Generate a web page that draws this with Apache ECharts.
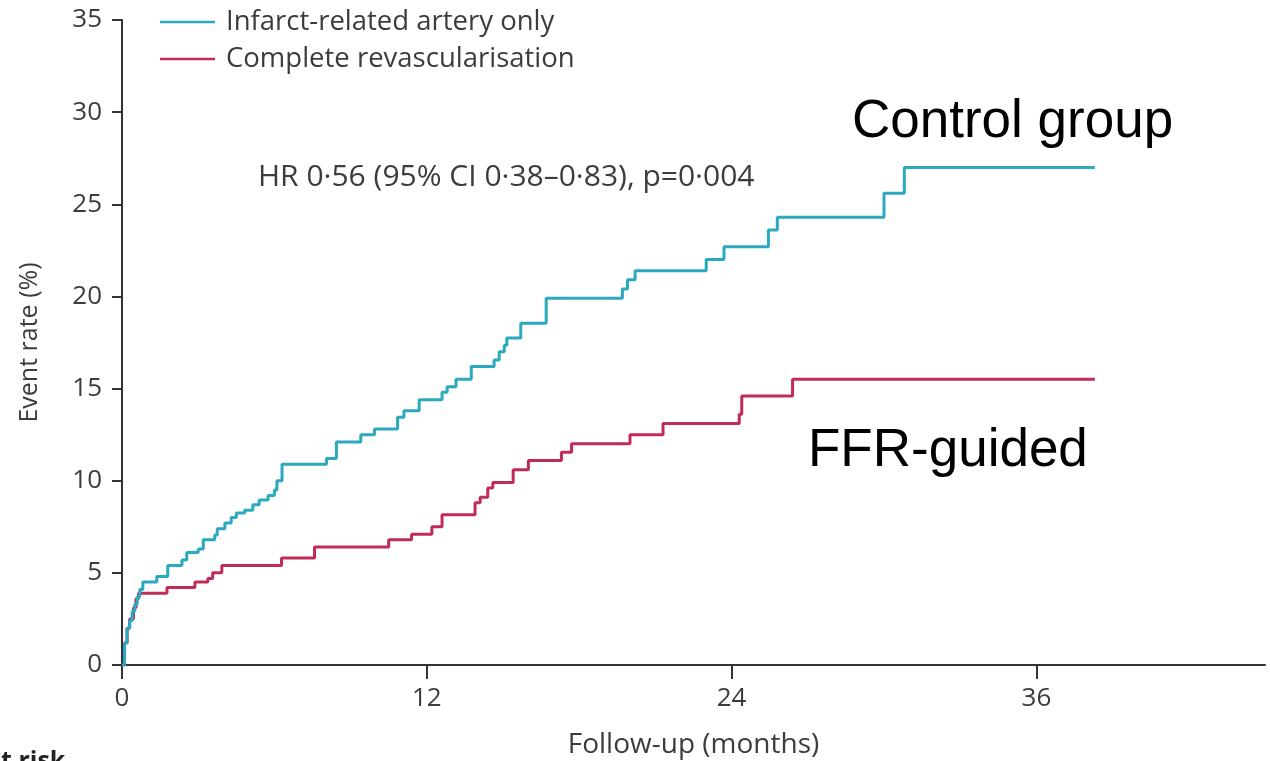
<!DOCTYPE html>
<html>
<head>
<meta charset="utf-8">
<script src="https://cdn.jsdelivr.net/npm/echarts@6/dist/echarts.min.js"></script>
<style>
  html, body { margin: 0; padding: 0; background: #fff; }
  #chart { width: 1270px; height: 761px; }
</style>
</head>
<body>
<div id="chart"></div>
<script>
// Cumulative event rate (%) by follow-up month — Kaplan–Meier style step curves
const ctrlMonths = [0, 0.1, 0.2, 0.3, 0.4, 0.5, 0.6, 0.7, 0.82, 1.37, 1.8, 2.36, 2.55, 3.0, 3.2, 3.65, 3.75,
  4.05, 4.3, 4.5, 4.83, 5.15, 5.4, 5.75, 6.0, 6.1, 6.3, 8.05, 8.44, 9.4, 9.94, 10.85, 11.1, 11.7,
  12.6, 12.8, 13.15, 13.75, 14.65, 14.85, 15.05, 15.15, 15.7, 16.7, 19.7, 19.9, 20.2, 23.0, 23.7,
  25.45, 25.8, 30.0, 30.8, 38.3];
const ctrlRate = [0, 1.2, 2.0, 2.4, 2.9, 3.3, 3.7, 4.1, 4.5, 4.8, 5.4, 5.7, 6.1, 6.3, 6.8, 7.05, 7.4,
  7.7, 8.0, 8.25, 8.4, 8.7, 8.95, 9.2, 9.5, 10.0, 10.9, 11.2, 12.1, 12.5, 12.8, 13.45, 13.8, 14.4,
  14.8, 15.1, 15.5, 16.2, 16.55, 17.0, 17.35, 17.75, 18.55, 19.9, 20.4, 20.9, 21.4, 22.0, 22.7,
  23.6, 24.3, 25.6, 27.0, 27.0];

const ffrMonths = [0, 0.1, 0.2, 0.3, 0.45, 0.55, 0.65, 1.77, 2.87, 3.38, 3.57, 3.93, 6.28, 7.58, 10.5,
  11.4, 12.2, 12.6, 13.9, 14.1, 14.4, 14.6, 15.4, 16.0, 17.3, 17.7, 20.0, 21.3, 24.3, 24.4, 26.4, 38.3];
const ffrRate = [0, 1.2, 2.0, 2.5, 3.1, 3.6, 3.9, 4.2, 4.5, 4.7, 5.0, 5.4, 5.8, 6.4, 6.8,
  7.1, 7.5, 8.15, 8.8, 9.1, 9.6, 9.9, 10.6, 11.1, 11.55, 12.0, 12.5, 13.1, 13.6, 14.6, 15.5, 15.5];

const seriesNames = ['Infarct-related artery only', 'Complete revascularisation'];
const xTickValues = [0, 12, 24, 36];
const hrText = 'HR 0·56 (95% CI 0·38–0·83), p=0·004';
const groupLabels = ['Control group', 'FFR-guided'];

const CYAN = '#2aa9bf';
const RED = '#c02c56';
const AXIS = '#333333';
const TEXT = '#3c3c3c';
const FONT = '"Open Sans", "Noto Sans", sans-serif';
const ARIAL = '"Liberation Sans", Arial, sans-serif';

const pairs = (xs, ys) => xs.map((x, i) => [x, ys[i]]);

const chart = echarts.init(document.getElementById('chart'), null, { renderer: 'canvas' });
chart.setOption({
  animation: false,
  backgroundColor: '#ffffff',
  grid: { left: 122, right: 5, top: 20, bottom: 96, containLabel: false, outerBoundsMode: 'none' },
  legend: {
    orient: 'vertical',
    left: 155,
    top: 0,
    icon: 'rect',
    itemWidth: 55,
    itemHeight: 2.5,
    itemGap: 3,
    data: seriesNames,
    textStyle: { fontFamily: FONT, fontSize: 27.5, color: TEXT, lineHeight: 34, padding: [0, 0, 0, 6] }
  },
  xAxis: {
    type: 'value',
    min: 0,
    max: 45,
    name: 'Follow-up (months)',
    nameLocation: 'middle',
    nameGap: 66,
    nameTextStyle: { fontFamily: FONT, fontSize: 28, color: TEXT },
    axisLine: { show: true, onZero: false, lineStyle: { color: AXIS, width: 2 } },
    axisTick: { show: true, length: 14, customValues: xTickValues, lineStyle: { color: AXIS, width: 2 } },
    axisLabel: { customValues: xTickValues, margin: 21, fontFamily: FONT, fontSize: 26, color: TEXT },
    splitLine: { show: false }
  },
  yAxis: {
    type: 'value',
    min: 0,
    max: 35,
    interval: 5,
    name: 'Event rate (%)',
    nameLocation: 'middle',
    nameGap: 80,
    nameTextStyle: { fontFamily: FONT, fontSize: 25, color: TEXT },
    axisLine: { show: true, lineStyle: { color: AXIS, width: 2 } },
    axisTick: { show: true, length: 10, lineStyle: { color: AXIS, width: 2 } },
    axisLabel: { margin: 20, fontFamily: FONT, fontSize: 26, color: TEXT },
    splitLine: { show: false }
  },
  series: [
    {
      name: seriesNames[0],
      type: 'line',
      step: 'end',
      symbol: 'none',
      data: pairs(ctrlMonths, ctrlRate),
      lineStyle: { color: CYAN, width: 3 },
      itemStyle: { color: CYAN },
      z: 3
    },
    {
      name: seriesNames[1],
      type: 'line',
      step: 'end',
      symbol: 'none',
      data: pairs(ffrMonths, ffrRate),
      lineStyle: { color: RED, width: 3 },
      itemStyle: { color: RED },
      z: 2
    }
  ],
  graphic: [
    {
      type: 'text', left: 258, top: 162,
      style: { text: hrText, fontFamily: FONT, fontSize: 30, fill: TEXT }
    },
    {
      type: 'text', left: 852, top: 96,
      style: { text: groupLabels[0], fontFamily: ARIAL, fontSize: 53, fill: '#000' }
    },
    {
      type: 'text', left: 808, top: 425,
      style: { text: groupLabels[1], fontFamily: ARIAL, fontSize: 53, fill: '#000' }
    },
    {
      type: 'text', left: -14, top: 749,
      style: { text: 'at risk', fontFamily: FONT, fontSize: 25, fontWeight: 'bold', fill: '#222' }
    }
  ]
});
</script>
</body>
</html>
